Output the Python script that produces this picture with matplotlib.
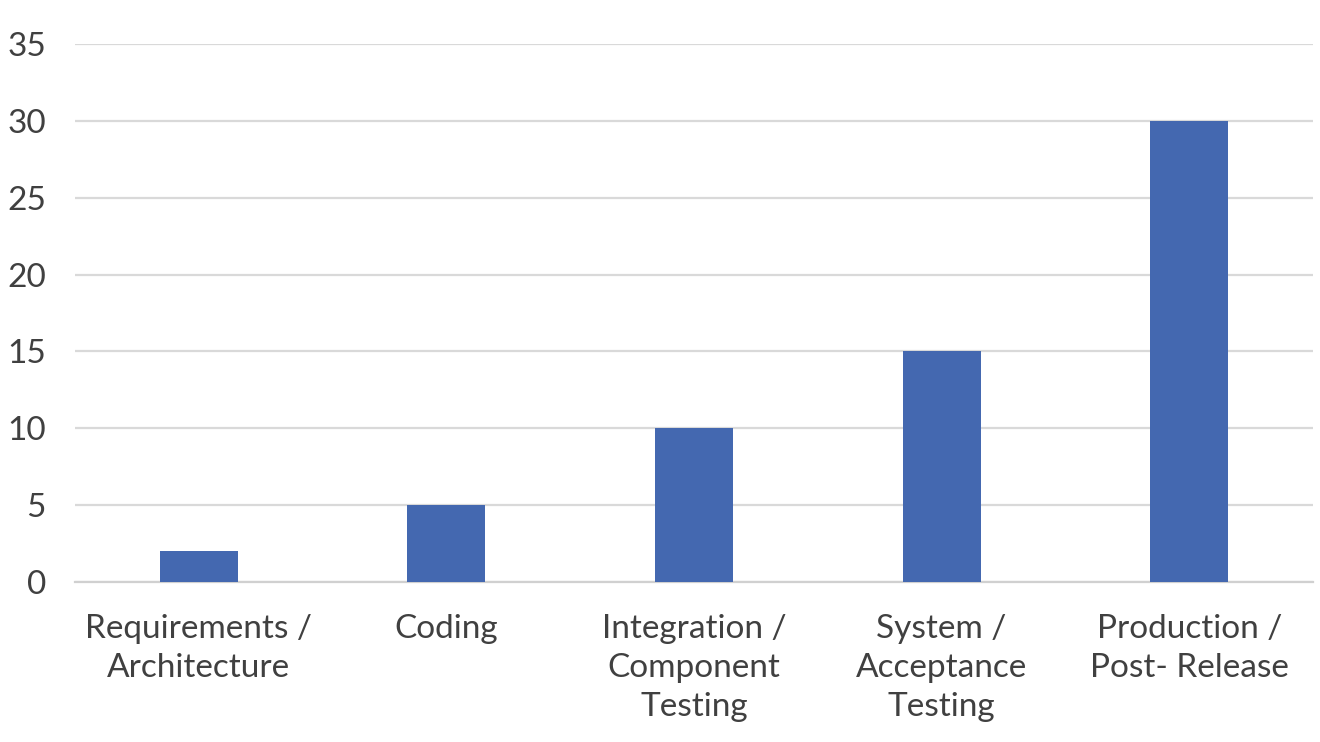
import matplotlib.pyplot as plt
import numpy as np

categories = ["Requirements /\nArchitecture", "Coding", "Integration /\nComponent\nTesting",
              "System /\nAcceptance\nTesting", "Production /\nPost- Release"]
values = [2, 5, 10, 15, 30]
y_ticks = [0, 5, 10, 15, 20, 25, 30, 35]

plt.rcParams['font.family'] = ['Lato', 'DejaVu Sans']

fig = plt.figure(figsize=(13.2, 7.42), dpi=100)
ax = fig.add_axes([75 / 1320, 1 - 582 / 742, (1313 - 75) / 1320, (582 - 44) / 742])

x = np.arange(len(categories))
ax.bar(x, values, width=0.315, color='#4468B0', zorder=3)

ax.set_xlim(-0.5, len(categories) - 0.5)
ax.set_ylim(0, 35)
ax.set_yticks(y_ticks)
ax.set_xticks(x)
ax.set_xticklabels(categories, linespacing=1.37)

ax.grid(axis='y', color='#D9D9D9', linewidth=1.6, zorder=0)
for side in ['top', 'right', 'left']:
    ax.spines[side].set_visible(False)
ax.spines['bottom'].set_color('#D0D0D0')
ax.spines['bottom'].set_linewidth(1.6)

ax.tick_params(axis='both', length=0, labelsize=24, labelcolor='#404040')
ax.tick_params(axis='y', pad=21)
ax.tick_params(axis='x', pad=23)

fig.savefig('out.png', dpi=100, facecolor='white')
